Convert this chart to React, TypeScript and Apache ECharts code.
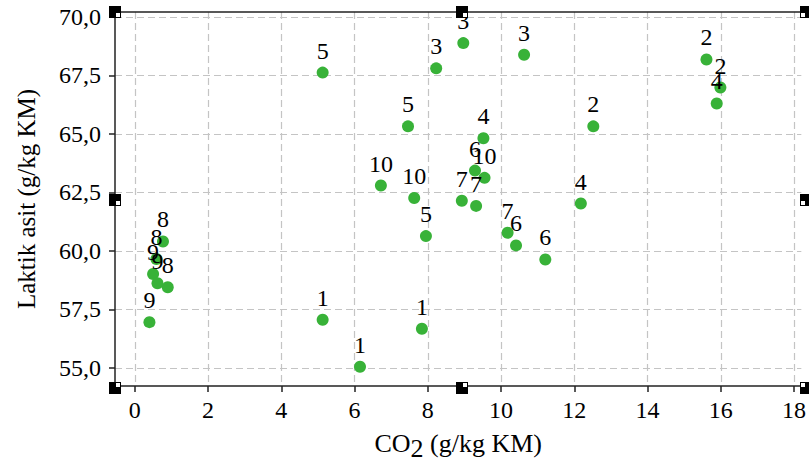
import React, { useEffect, useRef } from "react";
import * as echarts from "echarts";

// CO2 (g/kg KM) values
const co2 = [
  5.13, 7.84, 6.15,
  12.52, 15.61, 15.99,
  8.23, 8.97, 10.63,
  9.52, 12.18, 15.89,
  5.13, 7.46, 7.95,
  9.29, 10.41, 11.21,
  8.93, 9.32, 10.18,
  0.77, 0.59, 0.9,
  0.5, 0.62, 0.4,
  6.72, 7.63, 9.55,
];
// Laktik asit (g/kg KM) values
const lactic = [
  57.05, 56.67, 55.04,
  65.32, 68.18, 66.98,
  67.8, 68.88, 68.38,
  64.81, 62.02, 66.3,
  67.62, 65.32, 60.63,
  63.43, 60.23, 59.63,
  62.14, 61.92, 60.77,
  60.4, 59.65, 58.44,
  59.01, 58.61, 56.95,
  62.79, 62.26, 63.12,
];
// point labels
const pointLabels = [
  "1", "1", "1",
  "2", "2", "2",
  "3", "3", "3",
  "4", "4", "4",
  "5", "5", "5",
  "6", "6", "6",
  "7", "7", "7",
  "8", "8", "8",
  "9", "9", "9",
  "10", "10", "10",
];
const xTickValues = [0, 2, 4, 6, 8, 10, 12, 14, 16, 18];
const yTickValues = [55, 57.5, 60, 62.5, 65, 67.5, 70];

const FONT = "'Liberation Serif', 'Times New Roman', serif";

export default function App() {
  const ref = useRef<HTMLDivElement>(null);
  useEffect(() => {
    if (!ref.current) return;
    const chart = echarts.init(ref.current, null, { renderer: "svg" });
    const data = co2.map((x, i) => ({ value: [x, lactic[i]], name: pointLabels[i] }));

    const L = 115, T = 12, R = 806, B = 388;
    const handle = (cx: number, cy: number, dx: number, dy: number) => [
      { type: "rect", shape: { x: cx - 6, y: cy - 6, width: 12, height: 12 }, style: { fill: "#000" }, z: 100 },
      {
        type: "rect",
        shape: { x: dx > 0 ? cx + 1 : cx - 5, y: dy > 0 ? cy + 1 : cy - 5, width: 4, height: 4 },
        style: { fill: "#fff" },
        z: 101,
      },
    ];
    const mx = 462, my = 200;
    const graphics = [
      ...handle(L, T, 1, 1),
      ...handle(mx, T, 1, 1),
      ...handle(R, T, -1, 1),
      ...handle(L, my, 1, 1),
      ...handle(R, my, -1, 1),
      ...handle(L, B, 1, -1),
      ...handle(mx, B, 1, -1),
      ...handle(R, B, -1, -1),
    ];

    chart.setOption({
      animation: false,
      backgroundColor: "#fff",
      grid: { left: L, top: T, right: 809 - R, bottom: 466 - B },
      xAxis: [
        {
          type: "value",
          min: -0.54,
          max: 18.2,
          minInterval: 1,
          maxInterval: 1,
          splitNumber: 18,
          name: "CO{sub|2} (g/kg KM)",
          nameLocation: "middle",
          nameGap: 40,
          nameTextStyle: {
            fontFamily: FONT,
            fontSize: 26,
            color: "#000",
            rich: {
              sub: { fontFamily: FONT, fontSize: 26, color: "#000", verticalAlign: "bottom", padding: [9, 0, 0, 0] },
            },
          },
          axisLine: { show: true, onZero: false, lineStyle: { color: "#222", width: 1.5 } },
          axisTick: { show: true, customValues: xTickValues, length: 6, lineStyle: { color: "#222", width: 1.5 } },
          axisLabel: {
            customValues: xTickValues,
            fontFamily: FONT,
            fontSize: 24,
            color: "#000",
            margin: 12,
            formatter: (v: number) => String(v),
          },
          splitLine: { show: true, lineStyle: { color: "#c4c4c4", type: [7, 4], width: 1.2 } },
        },
        {
          type: "value",
          position: "top",
          min: 0,
          max: 1,
          axisLine: { show: true, onZero: false, lineStyle: { color: "#222", width: 1.5 } },
          axisTick: { show: false },
          axisLabel: { show: false },
          splitLine: { show: false },
        },
      ],
      yAxis: {
        type: "value",
        min: 54.22,
        max: 70.21,
        minInterval: 1.25,
        maxInterval: 1.25,
        splitNumber: 13,
        name: "Laktik asit (g/kg KM)",
        nameLocation: "middle",
        nameGap: 76,
        nameTextStyle: { fontFamily: FONT, fontSize: 25, color: "#000" },
        axisLine: { show: true, onZero: false, lineStyle: { color: "#222", width: 1.5 } },
        axisTick: { show: true, customValues: yTickValues, length: 6, lineStyle: { color: "#222", width: 1.5 } },
        axisLabel: {
          customValues: yTickValues,
          fontFamily: FONT,
          fontSize: 24,
          color: "#000",
          margin: 14,
          formatter: (v: number) => v.toFixed(1).replace(".", ","),
        },
        splitLine: { show: true, lineStyle: { color: "#c4c4c4", type: [7, 4], width: 1.2 } },
      },
      series: [
        {
          type: "scatter",
          xAxisIndex: 0,
          data,
          symbol: "circle",
          symbolSize: 12,
          itemStyle: { color: "#38b238", opacity: 1 },
          label: {
            show: true,
            position: "top",
            distance: 4,
            formatter: (p: any) => p.name,
            fontFamily: FONT,
            fontSize: 24,
            color: "#000",
          },
        },
      ],
      graphic: graphics,
    });
    return () => chart.dispose();
  }, []);
  return <div ref={ref} style={{ position: "fixed", left: 0, top: 0, width: 809, height: 466 }} />;
}
